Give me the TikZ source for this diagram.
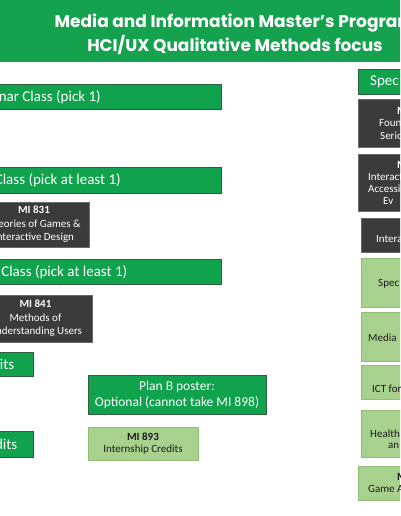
\documentclass[tikz,border=0pt]{standalone}
\usepackage{fontspec}
\setmainfont{Carlito}
\newfontfamily\titlefont{Poppins}
\definecolor{hdrgreen}{HTML}{14A24E}
\definecolor{bargreen}{HTML}{10A24D}
\definecolor{barborder}{HTML}{2F5E3E}
\definecolor{darkbox}{HTML}{3B3B3B}
\definecolor{darkborder}{HTML}{6A6A6A}
\definecolor{lightgreen}{HTML}{A9D18E}
\definecolor{lgborder}{HTML}{93BE78}
\definecolor{lgtext}{HTML}{1C1C1C}
\tikzset{
  box/.style={rectangle, inner sep=0pt, line width=0.8pt, align=center},
  gbar/.style={box, fill=bargreen, draw=barborder, text=white},
  dbox/.style={box, fill=darkbox, draw=darkborder, text=white,
     font=\fontsize{11}{13.5}\selectfont},
  lbox/.style={box, fill=lightgreen, draw=lgborder, text=lgtext,
     font=\fontsize{11}{12.5}\selectfont},
  bartext/.style={inner sep=0pt, text=white, font=\fontsize{15}{17}\selectfont},
  dtext/.style={inner sep=0pt, anchor=west, text=white, font=\fontsize{11}{12}\selectfont},
  ltext/.style={inner sep=0pt, anchor=west, text=lgtext, font=\fontsize{11}{12}\selectfont},
  ttext/.style={inner sep=0pt, text=white, font=\titlefont\bfseries\fontsize{17}{19}\selectfont},
}
\begin{document}
\begin{tikzpicture}[x=1pt,y=-1pt]
\useasboundingbox (0,0) rectangle (400,516);
\clip (0,0) rectangle (400,516);
\fill[white] (0,0) rectangle (400,516);
% header
\node[box, fill=hdrgreen, minimum width=400pt, minimum height=62pt] (hdr) at (200,31) {};
\node[ttext] (t1) at (235,23) {Media and Information Master’s Program};
\node[ttext] (t2) at (235,45) {HCI/UX Qualitative Methods focus};
% left / middle column
\node[gbar, minimum width=371pt, minimum height=25pt] (g1) at (35.5,96.5) {};
\node[bartext, anchor=east] (g1t) at (101,97) {Seminar Class (pick 1)};
\node[gbar, minimum width=371pt, minimum height=26pt] (g2) at (35.5,180) {};
\node[bartext, anchor=east] (g2t) at (121,180.5) {Class (pick at least 1)};
\node[dbox, minimum width=110pt, minimum height=45pt] (d831) at (34,224.5)
  {\textbf{MI 831}\\Theories of Games \&\\Interactive Design};
\node[gbar, minimum width=371pt, minimum height=25pt] (g3) at (35.5,271.5) {};
\node[bartext, anchor=east] (g3t) at (127.5,272) {Class (pick at least 1)};
\node[dbox, minimum width=113pt, minimum height=47pt] (d841) at (35.5,318.5)
  {\textbf{MI 841}\\Methods of\\Understanding Users};
\node[gbar, minimum width=133pt, minimum height=24pt] (gc1) at (-33.5,364) {};
\node[bartext, anchor=east] (gc1t) at (14.5,364.5) {Credits};
\node[gbar, minimum width=133pt, minimum height=26pt] (gc2) at (-33.5,444) {};
\node[bartext, anchor=east] (gc2t) at (17.5,444.5) {Credits};
\node[gbar, minimum width=178pt, minimum height=39pt,
  font=\fontsize{13.5}{16}\selectfont] (planb) at (177,394.5)
  {Plan B poster:\\Optional (cannot take MI 898)};
\node[lbox, minimum width=110pt, minimum height=33pt] (mi893) at (143,443.5)
  {\textbf{MI 893}\\Internship Credits};
% right column
\node[gbar, minimum width=92pt, minimum height=25pt] (rspec) at (404,81.5) {};
\node[bartext, anchor=west] (rspect) at (370,82) {Spec};
\node[dbox, minimum width=92pt, minimum height=48pt] (rd1) at (404,123) {};
\node[dtext] (rd1a) at (397,111) {\textbf{MI}};
\node[dtext] (rd1b) at (379,123.5) {Foun};
\node[dtext] (rd1c) at (380,136) {Serio};
\node[dbox, minimum width=92pt, minimum height=57pt] (rd2) at (404,182.5) {};
\node[dtext] (rd2a) at (397,165) {\textbf{MI}};
\node[dtext] (rd2b) at (368,177) {Interact};
\node[dtext] (rd2c) at (368,189) {Accessib};
\node[dtext] (rd2d) at (383,201) {Ev};
\node[dbox, minimum width=89pt, minimum height=34pt] (rd3) at (405.5,235) {};
\node[dtext] (rd3a) at (376,239.5) {Intera};
\node[lbox, minimum width=89pt, minimum height=49pt] (rl1) at (405.5,282.5) {};
\node[ltext] (rl1a) at (378,283.5) {Spec};
\node[lbox, minimum width=89pt, minimum height=49pt] (rl2) at (405.5,336.5) {};
\node[ltext] (rl2a) at (368,337.5) {Media};
\node[lbox, minimum width=89pt, minimum height=34pt] (rl3) at (405.5,382) {};
\node[ltext] (rl3a) at (372,389) {ICT for};
\node[lbox, minimum width=89pt, minimum height=47pt] (rl4) at (405.5,433.5) {};
\node[ltext] (rl4a) at (370,433.5) {Health};
\node[ltext] (rl4b) at (388,446) {an};
\node[lbox, minimum width=92pt, minimum height=34pt] (rl5) at (404,483) {};
\node[ltext] (rl5a) at (397,477) {\textbf{MI}};
\node[ltext] (rl5b) at (368,489) {Game A};
\end{tikzpicture}
\end{document}
